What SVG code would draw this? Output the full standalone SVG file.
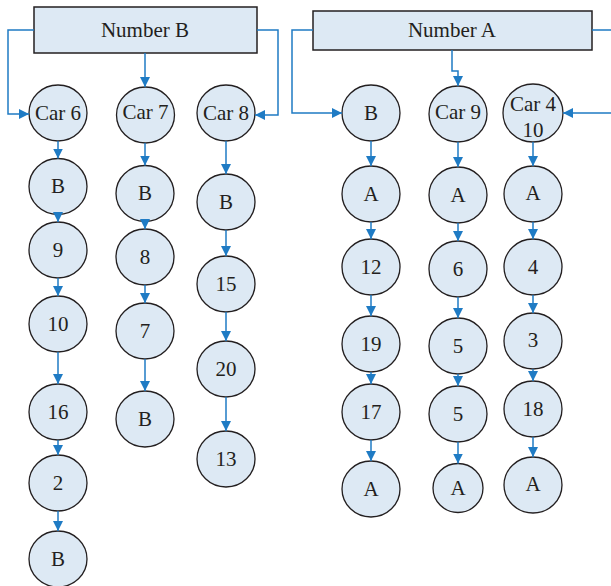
<svg xmlns="http://www.w3.org/2000/svg" width="611" height="586" viewBox="0 0 611 586">
<style>
.box{fill:#dde9f4;stroke:#231f20;stroke-width:1.5}
.nd{fill:#dde9f4;stroke:#231f20;stroke-width:1.3}
.t{font-family:"Liberation Serif","Times New Roman",serif;font-size:21px;fill:#231f20;text-anchor:middle}
.c{fill:none;stroke:#1f7bc4;stroke-width:1.5;marker-end:url(#ah)}
</style>
<defs>
<marker id="ah" markerUnits="userSpaceOnUse" markerWidth="10" markerHeight="10" refX="10" refY="5" orient="auto">
<path d="M0,0 L10,5 L0,10 z" fill="#1f7bc4"/>
</marker>
</defs>
<rect x="0" y="0" width="611" height="586" fill="#ffffff"/>
<g id="nodes">
<g id="numB"><rect class="box" x="34" y="7" width="223" height="46"/><text class="t" x="145" y="37">Number B</text></g>
<g id="numA"><rect class="box" x="313" y="11" width="279" height="39"/><text class="t" x="452" y="37">Number A</text></g>

<g id="car6"><ellipse class="nd" cx="58" cy="113" rx="29" ry="28"/><text class="t" x="58" y="120">Car 6</text></g>
<g id="c1b1"><ellipse class="nd" cx="58" cy="186.5" rx="29" ry="28"/><text class="t" x="58" y="193">B</text></g>
<g id="c1n9"><ellipse class="nd" cx="58" cy="250" rx="29" ry="28"/><text class="t" x="58" y="257">9</text></g>
<g id="c1n10"><ellipse class="nd" cx="58" cy="324" rx="29" ry="28"/><text class="t" x="58" y="331">10</text></g>
<g id="c1n16"><ellipse class="nd" cx="58" cy="412" rx="29" ry="28"/><text class="t" x="58" y="419">16</text></g>
<g id="c1n2"><ellipse class="nd" cx="58" cy="483" rx="29" ry="28"/><text class="t" x="58" y="490">2</text></g>
<g id="c1b2"><ellipse class="nd" cx="58" cy="559" rx="29" ry="28"/><text class="t" x="58" y="566">B</text></g>

<g id="car7"><ellipse class="nd" cx="145.5" cy="115" rx="29" ry="28"/><text class="t" x="145.5" y="119">Car 7</text></g>
<g id="c2b1"><ellipse class="nd" cx="145" cy="193.5" rx="29" ry="28"/><text class="t" x="145" y="200">B</text></g>
<g id="c2n8"><ellipse class="nd" cx="145" cy="257" rx="29" ry="28"/><text class="t" x="145" y="264">8</text></g>
<g id="c2n7"><ellipse class="nd" cx="145" cy="331" rx="29" ry="28"/><text class="t" x="145" y="338">7</text></g>
<g id="c2b2"><ellipse class="nd" cx="145" cy="419" rx="29" ry="28"/><text class="t" x="145" y="426">B</text></g>

<g id="car8"><ellipse class="nd" cx="226" cy="113" rx="29" ry="28"/><text class="t" x="226" y="120">Car 8</text></g>
<g id="c3b1"><ellipse class="nd" cx="226" cy="202" rx="29" ry="28"/><text class="t" x="226" y="209">B</text></g>
<g id="c3n15"><ellipse class="nd" cx="226" cy="284" rx="29" ry="28"/><text class="t" x="226" y="291">15</text></g>
<g id="c3n20"><ellipse class="nd" cx="226" cy="369" rx="29" ry="28"/><text class="t" x="226" y="376">20</text></g>
<g id="c3n13"><ellipse class="nd" cx="226" cy="459" rx="29" ry="28"/><text class="t" x="226" y="466">13</text></g>

<g id="c4b"><ellipse class="nd" cx="371" cy="113" rx="29" ry="28"/><text class="t" x="371" y="120">B</text></g>
<g id="c4a1"><ellipse class="nd" cx="371" cy="194" rx="29" ry="28"/><text class="t" x="371" y="201">A</text></g>
<g id="c4n12"><ellipse class="nd" cx="371" cy="267" rx="29" ry="28"/><text class="t" x="371" y="274">12</text></g>
<g id="c4n19"><ellipse class="nd" cx="371" cy="344" rx="29" ry="28"/><text class="t" x="371" y="351">19</text></g>
<g id="c4n17"><ellipse class="nd" cx="371" cy="412" rx="29" ry="28"/><text class="t" x="371" y="419">17</text></g>
<g id="c4a2"><ellipse class="nd" cx="371" cy="489" rx="29" ry="28"/><text class="t" x="371" y="496">A</text></g>

<g id="car9"><ellipse class="nd" cx="458" cy="114" rx="29" ry="28"/><text class="t" x="458" y="119">Car 9</text></g>
<g id="c5a1"><ellipse class="nd" cx="458" cy="195" rx="29" ry="28"/><text class="t" x="458" y="202">A</text></g>
<g id="c5n6"><ellipse class="nd" cx="458" cy="269" rx="29" ry="28"/><text class="t" x="458" y="276">6</text></g>
<g id="c5n5a"><ellipse class="nd" cx="458" cy="346" rx="29" ry="28"/><text class="t" x="458" y="353">5</text></g>
<g id="c5n5b"><ellipse class="nd" cx="458" cy="414" rx="29" ry="28"/><text class="t" x="458" y="421">5</text></g>
<g id="c5a2"><ellipse class="nd" cx="458" cy="488" rx="25" ry="24.5"/><text class="t" x="458" y="495">A</text></g>

<g id="car4"><ellipse class="nd" cx="533" cy="113" rx="30" ry="29"/><text class="t" x="533" y="111">Car 4</text><text class="t" x="533" y="137">10</text></g>
<g id="c6a1"><ellipse class="nd" cx="533" cy="194" rx="29" ry="28"/><text class="t" x="533" y="200">A</text></g>
<g id="c6n4"><ellipse class="nd" cx="533" cy="267" rx="29" ry="28"/><text class="t" x="533" y="274">4</text></g>
<g id="c6n3"><ellipse class="nd" cx="533" cy="341" rx="29" ry="28"/><text class="t" x="533" y="347">3</text></g>
<g id="c6n18"><ellipse class="nd" cx="533" cy="409" rx="29" ry="28"/><text class="t" x="533" y="416">18</text></g>
<g id="c6a2"><ellipse class="nd" cx="533" cy="485" rx="29" ry="28"/><text class="t" x="533" y="491">A</text></g>
</g>
<g id="connectors">
<path class="c" d="M34,30 H8 V114 H29"/>
<path class="c" d="M145,53 V87"/>
<path class="c" d="M257,30 H278 V115 H255"/>
<path class="c" d="M313,30 H292 V113 H342"/>
<path class="c" d="M452,50 V71 H458 V86"/>
<path class="c" d="M592,30 H616 V113 H563"/>

<path class="c" d="M58,141 V158.5"/>
<path class="c" d="M58,212 V222"/>
<path class="c" d="M58,278 V296"/>
<path class="c" d="M58,352 V384"/>
<path class="c" d="M58,440 V455"/>
<path class="c" d="M58,511 V531"/>

<path class="c" d="M145,143 V165.5"/>
<path class="c" d="M145,219 V229"/>
<path class="c" d="M145,285 V303"/>
<path class="c" d="M145,359 V391"/>

<path class="c" d="M226,141 V174"/>
<path class="c" d="M226,230 V256"/>
<path class="c" d="M226,312 V341"/>
<path class="c" d="M226,397 V431"/>

<path class="c" d="M371,141 V166"/>
<path class="c" d="M371,222 V239"/>
<path class="c" d="M371,295 V316"/>
<path class="c" d="M371,372 V384"/>
<path class="c" d="M371,440 V461"/>

<path class="c" d="M458,142 V167"/>
<path class="c" d="M458,223 V241"/>
<path class="c" d="M458,297 V318"/>
<path class="c" d="M458,374 V386"/>
<path class="c" d="M458,442 V463.5"/>

<path class="c" d="M533,142 V166"/>
<path class="c" d="M533,222 V239"/>
<path class="c" d="M533,295 V313"/>
<path class="c" d="M533,369 V381"/>
<path class="c" d="M533,437 V457"/>
</g>
</svg>
